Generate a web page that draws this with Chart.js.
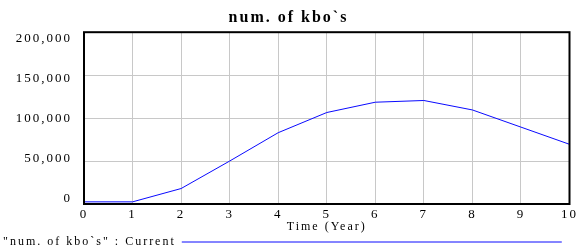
<!DOCTYPE html>
<html>
<head>
<meta charset="utf-8">
<script src="https://cdn.jsdelivr.net/npm/chart.js@4/dist/chart.umd.min.js"></script>
<style>
  html, body { margin: 0; padding: 0; background: #ffffff; }
  #wrap { width: 581px; height: 248px; }
</style>
</head>
<body>
<div id="wrap"><canvas id="c" width="581" height="248"></canvas></div>
<script>
const chartTitle = 'num. of kbo`s';
const seriesLabel = '"num. of kbo`s" : Current';
const xAxisTitle = 'Time (Year)';
const years = [0, 1, 2, 3, 4, 5, 6, 7, 8, 9, 10];
const kbos = [2500, 2500, 18000, 50000, 83000, 106500, 118500, 120500, 109500, 89500, 69500];
const yTicks = [0, 50000, 100000, 150000, 200000];
const xTicks = [0, 1, 2, 3, 4, 5, 6, 7, 8, 9, 10];

const FONT = "'Liberation Serif', 'Times New Roman', serif";
const SPACING = '2px';

const spacingPlugin = {
  id: 'spacing',
  beforeUpdate(chart) { chart.ctx.letterSpacing = SPACING; },
  beforeLayout(chart) { chart.ctx.letterSpacing = SPACING; },
  beforeDraw(chart) { chart.ctx.letterSpacing = SPACING; }
};

const framePlugin = {
  id: 'frame',
  afterDraw(chart) {
    const a = chart.chartArea, ctx = chart.ctx;
    ctx.save();
    ctx.strokeStyle = '#000000';
    ctx.lineWidth = 2;
    ctx.strokeRect(a.left, a.top, a.right - a.left, a.bottom - a.top);
    ctx.restore();
  }
};

new Chart(document.getElementById('c'), {
  type: 'line',
  data: {
    datasets: [{
      label: seriesLabel,
      data: years.map((t, i) => ({ x: t, y: kbos[i] })),
      borderColor: '#0a0aff',
      backgroundColor: '#0a0aff',
      borderWidth: 1,
      pointRadius: 0,
      tension: 0,
      pointStyle: 'line'
    }]
  },
  options: {
    responsive: false,
    animation: false,
    devicePixelRatio: 1,
    layout: { padding: { left: 3, right: 7, top: 0, bottom: 0 } },
    plugins: {
      title: {
        display: true,
        text: chartTitle,
        color: '#000000',
        font: { family: FONT, size: 16, weight: 'bold' },
        padding: { top: 8, bottom: 5 }
      },
      legend: {
        display: true,
        position: 'bottom',
        align: 'end',
        rtl: true,
        textDirection: 'ltr',
        maxHeight: 12,
        labels: {
          color: '#000000',
          font: { family: FONT, size: 12 },
          usePointStyle: true,
          pointStyleWidth: 380,
          boxHeight: 12,
          padding: 0
        }
      },
      tooltip: { enabled: false }
    },
    scales: {
      x: {
        type: 'linear',
        min: 0,
        max: 10,
        afterBuildTicks: s => { s.ticks = xTicks.map(v => ({ value: v })); },
        grid: { color: '#c8c8c8', lineWidth: 1, drawTicks: false },
        border: { display: false },
        ticks: { color: '#000000', font: { family: FONT, size: 13 }, padding: 3, maxRotation: 0 },
        title: { display: true, text: xAxisTitle, color: '#000000', font: { family: FONT, size: 12 }, padding: { top: 0, bottom: 2 } },
        afterFit: s => { s.height = 32; }
      },
      y: {
        type: 'linear',
        position: 'left',
        min: 0,
        max: 200000,
        afterBuildTicks: s => { s.ticks = yTicks.map(v => ({ value: v })); },
        grid: { color: '#c8c8c8', lineWidth: 1, drawTicks: false },
        border: { display: false },
        ticks: { display: false },
        afterFit: s => { s.width = 0; }
      },
      yLabels: {
        type: 'linear',
        position: 'left',
        min: -7125,
        max: 207500,
        afterBuildTicks: s => { s.ticks = yTicks.map(v => ({ value: v })); },
        grid: { display: false, drawTicks: false },
        border: { display: false },
        ticks: {
          color: '#000000',
          font: { family: FONT, size: 13 },
          padding: 12,
          callback: v => v.toLocaleString('en-US')
        },
        afterFit: s => { s.width = 81; }
      }
    }
  },
  plugins: [spacingPlugin, framePlugin]
});
</script>
</body>
</html>
